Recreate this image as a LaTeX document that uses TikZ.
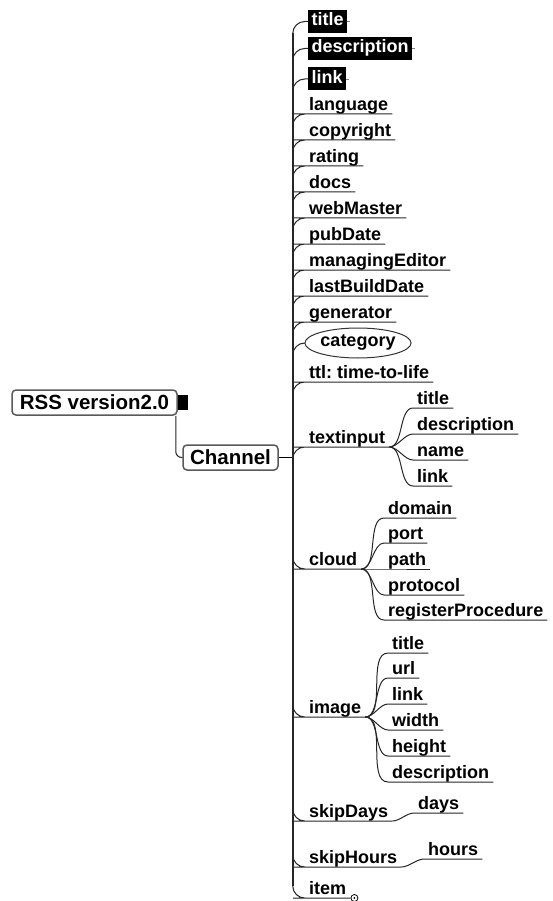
\documentclass[tikz,border=0pt]{standalone}
\usepackage{fontspec}
\setmainfont{Liberation Sans}
\usetikzlibrary{shapes,arrows}
\usetikzlibrary{calc}
\frenchspacing

\begin{document}
\begin{tikzpicture}[x=1pt,y=-1pt,
	leaf/.style={anchor=south west, inner xsep=4pt, inner ysep=0pt, text depth=3.5pt, font=\fontsize{18}{18}\selectfont\bfseries},
	blackbox/.style={anchor=west, fill=black, text=white, inner xsep=3.5pt, inner ysep=3.5pt, text height=12.5pt, text depth=3.5pt, font=\fontsize{18}{18}\selectfont\bfseries},
	topbox/.style={draw=black!65, line width=1.5pt, rounded corners=4pt, inner sep=0pt, minimum height=25pt, font=\fontsize{20.5}{20.5}\selectfont\bfseries},
	branch/.style={draw=black!85, line width=1pt, rounded corners=12pt},
	sub/.style={draw=black!85, line width=1pt, out=0, in=180, looseness=0.8}]
	\useasboundingbox (0,0) rectangle (553,901);
	
	% root and channel
	\node[topbox, minimum width=165pt] (rss) at (94.5,402.5) {RSS version2.0};
	\node[fill=black, minimum width=10pt, minimum height=15pt, inner sep=0pt, anchor=west] (knob) at (rss.east) {};
	\node[topbox, minimum width=95pt] (chan) at (230.5,457.5) {Channel};
	\coordinate (trunk) at ($(chan.east)+(14,0)$);
	
	\draw[branch, rounded corners=6pt] ([xshift=-2pt]rss.south east) |- (chan.west);
	\draw[line width=1pt] (chan.east) -- (trunk);
	
	% required elements
	\node[blackbox] (title) at (308,21.5) {title};
	\node[blackbox] (desc) at (308,48.5) {description};
	\node[blackbox] (link) at (308,79) {link};
	
	% optional elements
	\node[leaf] (lang) at (305,114) {language};
	\node[leaf] (copy) at (305,140) {copyright};
	\node[leaf] (rating) at (305,166) {rating};
	\node[leaf] (docs) at (305,192) {docs};
	\node[leaf] (web) at (305,218) {webMaster};
	\node[leaf] (pub) at (305,244) {pubDate};
	\node[leaf] (man) at (305,270) {managingEditor};
	\node[leaf] (last) at (305,296) {lastBuildDate};
	\node[leaf] (gen) at (305,322) {generator};
	\node[ellipse, draw=black!80, line width=1pt, minimum width=98pt, minimum height=30pt, inner sep=0pt, font=\fontsize{18}{18}\selectfont\bfseries] (cat) at (358,343) {category};
	\node[leaf] (ttl) at (305,382) {ttl: time-to-life};
	\node[leaf] (ti) at (305,447) {textinput};
	\node[leaf] (cloud) at (305,569) {cloud};
	\node[leaf] (image) at (305,717) {image};
	\node[leaf] (sdays) at (305,821) {skipDays};
	\node[leaf] (shours) at (305,867) {skipHours};
	\node[leaf] (item) at (305,898) {item};
	
	% textinput children
	\node[leaf] (ti1) at (413,408) {title};
	\node[leaf] (ti2) at (413,434) {description};
	\node[leaf] (ti3) at (413,460) {name};
	\node[leaf] (ti4) at (413,486) {link};
	
	% cloud children
	\node[leaf] (cl1) at (384,518) {domain};
	\node[leaf] (cl2) at (384,543) {port};
	\node[leaf] (cl3) at (384,569) {path};
	\node[leaf] (cl4) at (384,595) {protocol};
	\node[leaf] (cl5) at (384,620) {registerProcedure};
	
	% image children
	\node[leaf] (im1) at (388,653) {title};
	\node[leaf] (im2) at (388,678) {url};
	\node[leaf] (im3) at (388,704) {link};
	\node[leaf] (im4) at (388,730) {width};
	\node[leaf] (im5) at (388,756) {height};
	\node[leaf] (im6) at (388,782) {description};
	
	\node[leaf] (days) at (414,813) {days};
	\node[leaf] (hours) at (424,859) {hours};
	
	% trunk
	\draw[line width=2.2pt, black!85] ([yshift=-12pt]trunk |- title.west) -- ([yshift=12pt]trunk |- item.south west);
	
	% branches from the trunk
	\draw[branch] (trunk) |- (title.west);
	\draw[branch] (trunk) |- (desc.west);
	\draw[branch] (trunk) |- (link.west);
	\draw[black!50] (title.east) -- ++(3,0);
	\draw[black!50] (desc.east) -- ++(3,0);
	\draw[black!50] (link.east) -- ++(3,0);
	\foreach \n in {lang,copy,rating,docs,web,pub,man,last,gen,ttl,ti,cloud,image,sdays,shours,item}
		\draw[branch] (trunk) |- (\n.south west) -- (\n.south east);
	\draw[branch] (trunk) |- (cat.west);
	
	% sub branches
	\foreach \n in {ti1,ti2,ti3,ti4}
		\draw[sub] (ti.south east) to (\n.south west) -- (\n.south east);
	\foreach \n in {cl1,cl2,cl3,cl4,cl5}
		\draw[sub] (cloud.south east) to (\n.south west) -- (\n.south east);
	\foreach \n in {im1,im2,im3,im4,im5,im6}
		\draw[sub] (image.south east) to (\n.south west) -- (\n.south east);
	\draw[sub] (sdays.south east) to (days.south west) -- (days.south east);
	\draw[sub] (shours.south east) to (hours.south west) -- (hours.south east);
	
	% collapsed item marker
	\draw[fill=white, line width=0.8pt] ($(item.south east)+(4,0)$) circle (3.5pt);
	\fill ($(item.south east)+(4,0)$) circle (1pt);
\end{tikzpicture}
\end{document}
